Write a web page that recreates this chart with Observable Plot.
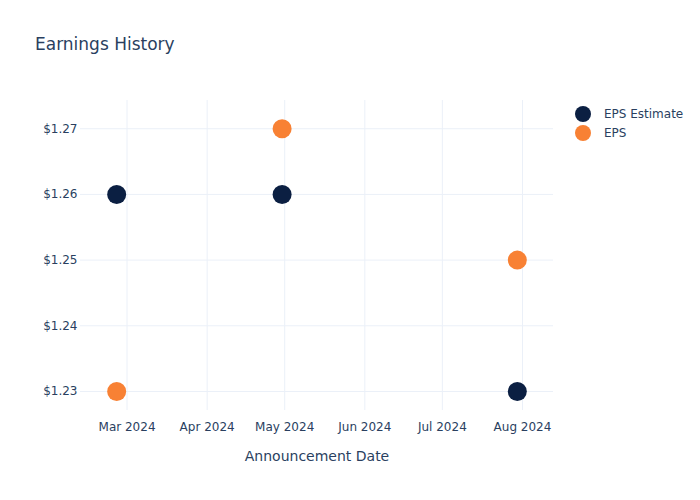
<!DOCTYPE html>
<html>
<head>
<meta charset="utf-8">
<script src="https://cdn.jsdelivr.net/npm/d3@7"></script>
<script src="https://cdn.jsdelivr.net/npm/@observablehq/plot@0.6"></script>
<style>
  html, body { margin: 0; padding: 0; background: #fff; }
  #wrap { position: relative; width: 700px; height: 500px; font-family: "DejaVu Sans", sans-serif; color: #2a3f5f; }
  #title { position: absolute; left: 35px; top: 33px; font-size: 17px; line-height: 22px; white-space: nowrap; }
  .leg { position: absolute; left: 575px; font-size: 12px; line-height: 16px; display: flex; align-items: center; white-space: nowrap; }
  .dot { width: 16px; height: 16px; border-radius: 50%; margin-right: 13px; }
  svg { position: absolute; left: 0; top: 0; }
</style>
</head>
<body>
<div id="wrap">
  <div id="chart"></div>
  <div id="title">Earnings History</div>
  <div class="leg" style="top:106px"><div class="dot" style="background:#0b1f42"></div>EPS Estimate</div>
  <div class="leg" style="top:125px"><div class="dot" style="background:#f88134"></div>EPS</div>
</div>
<script>
const dates = ["2024-02-26", "2024-04-30", "2024-07-30"];
const epsEstimate = [1.26, 1.26, 1.23];
const eps = [1.23, 1.27, 1.25];
const yTicks = [1.23, 1.24, 1.25, 1.26, 1.27];
const xTickDates = ["2024-03-01", "2024-04-01", "2024-05-01", "2024-06-01", "2024-07-01", "2024-08-01"];
const xDomain = ["2024-02-12", "2024-08-13"];
const yDomain = [1.2271, 1.2743];

const parse = d3.utcParse("%Y-%m-%d");
const estData = dates.map((d, i) => ({date: parse(d), value: epsEstimate[i]}));
const epsData = dates.map((d, i) => ({date: parse(d), value: eps[i]}));
const xt = xTickDates.map(parse);

const chart = Plot.plot({
  width: 700,
  height: 500,
  marginLeft: 80,
  marginRight: 147,
  marginTop: 100,
  marginBottom: 90,
  style: {fontFamily: "DejaVu Sans, sans-serif", fontSize: "12px", color: "#2a3f5f", background: "#fff"},
  x: {type: "utc", domain: xDomain.map(parse)},
  y: {domain: yDomain},
  marks: [
    Plot.ruleX(xt, {x: d => d, stroke: "#ebf0f8", strokeWidth: 1}),
    Plot.ruleY(yTicks, {y: d => d, stroke: "#ebf0f8", strokeWidth: 1}),
    Plot.axisX(xt, {tickSize: 0, tickPadding: 12, tickFormat: d3.utcFormat("%b %Y"), fill: "#2a3f5f", fontSize: 12, label: null}),
    Plot.axisY(yTicks, {tickSize: 0, tickPadding: 3, tickFormat: d => "$" + d.toFixed(2), fill: "#2a3f5f", fontSize: 12, label: null}),
    Plot.text(["Announcement Date"], {frameAnchor: "bottom", dy: 50, fontSize: 14, fill: "#2a3f5f"}),
    Plot.dot(estData, {x: "date", y: "value", r: 9.5, fill: "#0b1f42"}),
    Plot.dot(epsData, {x: "date", y: "value", r: 9.5, fill: "#f88134"})
  ]
});
document.getElementById("chart").appendChild(chart);
</script>
</body>
</html>
